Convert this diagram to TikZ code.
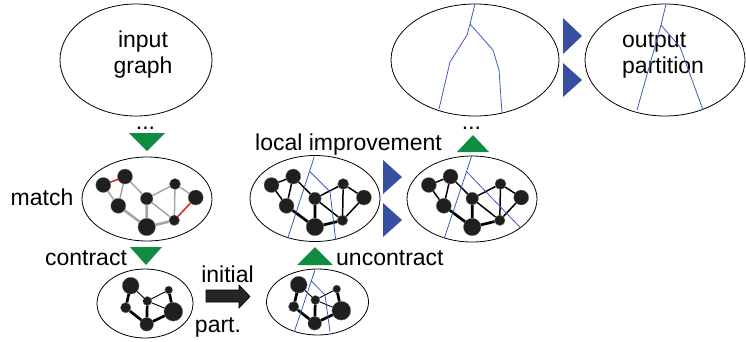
\documentclass[tikz,border=0pt]{standalone}
\usepackage{fontspec}
\setmainfont{Liberation Sans}
\usetikzlibrary{shapes.geometric}
\definecolor{grn}{RGB}{16,140,64}
\definecolor{btri}{RGB}{56,78,160}
\definecolor{bline}{RGB}{60,90,190}
\definecolor{redge}{RGB}{230,30,30}
\definecolor{gedge}{RGB}{165,165,165}
\newcommand\octnodes{%
  \node[vtx,minimum size=15pt] (A) at (103.3,185) {};
  \node[vtx,minimum size=15pt] (B) at (125,176.5) {};
  \node[vtx,minimum size=15pt] (C) at (118.3,205.8) {};
  \node[vtx,minimum size=12.5pt] (D) at (146.7,198.5) {};
  \node[vtx,minimum size=11pt] (E) at (175,184) {};
  \node[vtx,minimum size=15pt] (F) at (195.7,197.5) {};
  \node[vtx,minimum size=17.5pt] (G) at (146.7,227) {};
  \node[vtx,minimum size=10.5pt] (H) at (174.3,220.3) {};
}
\newcommand\octedgesblack{%
  \draw[ed] (A)--(B) (A)--(C) (B)--(C) (B)--(D) (D)--(E) (D)--(H) (E)--(H) (E)--(F) (F)--(H);
  \draw[edthick] (C)--(G) (D)--(G) (G)--(H);
}
\newcommand\hexnodes{%
  \node[vtx,minimum size=16.8pt] (a) at (130.7,285.7) {};
  \node[vtx,minimum size=10.4pt] (b) at (125.7,307.7) {};
  \node[vtx,minimum size=9pt]  (c) at (147.3,301) {};
  \node[vtx,minimum size=7.8pt]  (d) at (168.7,290) {};
  \node[vtx,minimum size=18.8pt] (e) at (173.3,311.7) {};
  \node[vtx,minimum size=13.6pt] (f) at (146.7,324.3) {};
  \draw[edthick] (a)--(b) (b)--(f) (c)--(f) (f)--(e) (d)--(e);
  \draw[edthin] (a)--(c) (c)--(d) (c)--(e);
}
\begin{document}
\begin{tikzpicture}[x=1pt,y=-1pt,
  ell/.style={draw=black,line width=0.8pt,ellipse,inner sep=0},
  vtx/.style={circle,fill=black!88,draw=black!55,line width=0.3pt,inner sep=0},
  ed/.style={draw=black,line width=1.5pt},
  edthick/.style={draw=black,line width=2.7pt},
  edthin/.style={draw=black,line width=0.9pt},
  ged/.style={draw=gedge,line width=1.5pt},
  gedthick/.style={draw=gedge,line width=2.6pt},
  red/.style={draw=redge,line width=1.5pt},
  part/.style={draw=bline,line width=0.8pt},
  gtri/.style={fill=grn},
  btr/.style={fill=btri},
  lbl/.style={font=\fontsize{23}{27}\selectfont,inner sep=0}]
\useasboundingbox (0,0) rectangle (746,341);

% top row ellipses
\node[ell,minimum width=152pt,minimum height=112pt] (ein) at (136,60) {};
\node[ell,minimum width=168pt,minimum height=112pt] (etop) at (475,60) {};
\node[ell,minimum width=160pt,minimum height=112pt] (eout) at (665,60) {};
\node[lbl,anchor=base] (in1) at (143,47) {input};
\node[lbl,anchor=base] (in2) at (143,73) {graph};
\node[lbl,anchor=base west] (out1) at (622,47) {output};
\node[lbl,anchor=base west] (out2) at (622,73) {partition};
\draw[part] (475,4) -- (470,24) -- (467,35) -- (450,62) -- (439,109);
\draw[part] (470,24) -- (493,50) -- (499,70) -- (502,113);
\draw[part] (666,4) -- (661,25) -- (637,110);
\draw[part] (661,25) -- (680,47) -- (703,110);
\fill[btr] (563,18) -- (563,54) -- (582,36) -- cycle;
\fill[btr] (563,63) -- (563,97) -- (582,80) -- cycle;

% dots and green triangles
\node[lbl,anchor=base] (dots1) at (145.5,129) {...};
\node[lbl,anchor=base] (dots2) at (471.5,129) {...};
\fill[gtri] (129,133) -- (165,133) -- (147,151) -- cycle;
\fill[gtri] (457,152) -- (489,152) -- (473,135) -- cycle;
\fill[gtri] (130,247) -- (162,247) -- (146,265) -- cycle;
\fill[gtri] (297,265) -- (333,265) -- (315,247) -- cycle;

% middle row
\node[lbl,anchor=base] (lmatch) at (42,205) {match};
\node[lbl,anchor=base west] (limp) at (255,150) {local improvement};
\node[ell,minimum width=130pt,minimum height=84pt] (em) at (147,199) {};
\begin{scope}[name prefix=m-]
  \octnodes
  \draw[ged] (A)--(C) (B)--(C) (B)--(D) (D)--(E) (D)--(H) (E)--(H) (E)--(F);
  \draw[gedthick] (C)--(G) (D)--(G) (G)--(H);
  \draw[red] (A)--(B) (F)--(H);
\end{scope}
\node[ell,minimum width=130pt,minimum height=86pt] (ep1) at (315,198.5) {};
\begin{scope}[name prefix=p-,shift={(168.2,0)}]
  \octnodes
  \octedgesblack
\end{scope}
\draw[part] (314.3,156.7) -- (287.7,238.3);
\draw[part] (310,171.7) -- (330,191.7) -- (335.7,240);
\node[ell,minimum width=130pt,minimum height=86pt] (ep2) at (472,199) {};
\begin{scope}[name prefix=q-,shift={(325.5,0)}]
  \octnodes
  \octedgesblack
\end{scope}
\draw[part] (471.7,156) -- (444.3,238.3);
\draw[part] (466.7,171.7) -- (520,227.3);
\fill[btr] (383,160) -- (383,194) -- (402,177) -- cycle;
\fill[btr] (383,203) -- (383,237) -- (402,220) -- cycle;

% bottom row
\node[lbl,anchor=base] (lcon) at (86,265) {contract};
\node[lbl,anchor=base west] (lunc) at (336,265) {uncontract};
\node[lbl,anchor=base] (linit) at (227.5,282) {initial};
\node[lbl,anchor=base] (lpart) at (218,332) {part.};
\node[ell,minimum width=96pt,minimum height=69pt] (eb1) at (145,303.5) {};
\begin{scope}[name prefix=b-]
  \hexnodes
\end{scope}
\node[ell,minimum width=102pt,minimum height=66pt] (eb2) at (317.5,302) {};
\begin{scope}[name prefix=c-,shift={(168,-1)}]
  \hexnodes
\end{scope}
\draw[part] (315,270) -- (294.3,331.7);
\draw[part] (311,280.7) -- (325,295) -- (330,331.7);
\filldraw[fill=black!85,draw=black,line width=0.6pt]
  (206,290) -- (239,290) -- (239,285) -- (250,296.5) -- (239,308) -- (239,302) -- (206,302) -- cycle;
\end{tikzpicture}
\end{document}
